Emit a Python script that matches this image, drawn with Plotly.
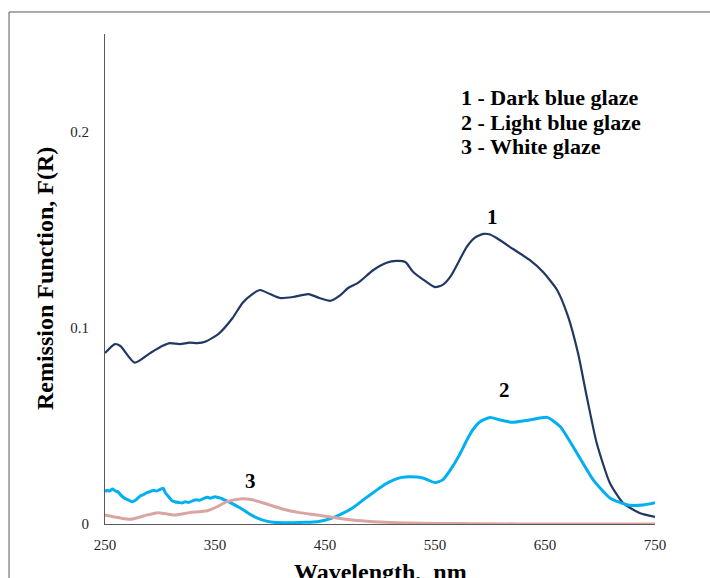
import plotly.graph_objects as go

# Remission function spectra of three glazes
wl_dark = [250, 259, 264, 277, 291, 302, 309, 318, 327, 334, 341, 353, 366, 375, 384, 391,
           400, 409, 421, 435, 445, 455, 464, 471, 480, 494, 506, 515, 523, 530, 541, 550,
           557, 564, 579, 586, 594, 600, 606, 621, 636, 648, 661, 671, 680, 688, 697, 709,
           721, 736, 750]
fr_dark = [0.0872, 0.0918, 0.0908, 0.0823, 0.0872, 0.0908, 0.0923, 0.0918, 0.0925, 0.0923,
           0.0930, 0.0969, 0.1051, 0.1128, 0.1173, 0.1194, 0.1173, 0.1153, 0.1158, 0.1173,
           0.1153, 0.1139, 0.1168, 0.1204, 0.1230, 0.1296, 0.1333, 0.1342, 0.1337, 0.1287,
           0.1240, 0.1209, 0.1220, 0.1262, 0.1415, 0.1460, 0.1480, 0.1477, 0.1459, 0.1403,
           0.1347, 0.1287, 0.1194, 0.1058, 0.0872, 0.0649, 0.0413, 0.0209, 0.0107, 0.0056,
           0.0036]

wl_light = [250, 252, 254, 257, 259, 262, 264, 266, 269, 272, 275, 278, 280, 282, 285, 288,
            291, 294, 297, 300, 303, 305, 308, 311, 314, 317, 320, 323, 326, 330, 333, 336,
            340, 343, 346, 350, 353, 356, 359, 366, 373, 380, 388, 395, 403, 412, 421, 432,
            443, 450, 457, 466, 475, 486, 497, 505, 512, 520, 527, 539, 550, 557, 564, 572,
            579, 585, 591, 600, 609, 620, 636, 652, 664, 679, 694, 709, 725, 739, 750]
fr_light = [0.0165, 0.0172, 0.0168, 0.0179, 0.0170, 0.0163, 0.0150, 0.0139, 0.0128, 0.0120,
            0.0114, 0.0122, 0.0133, 0.0143, 0.0150, 0.0160, 0.0165, 0.0172, 0.0168, 0.0176,
            0.0182, 0.0158, 0.0138, 0.0119, 0.0112, 0.0110, 0.0107, 0.0113, 0.0110, 0.0119,
            0.0124, 0.0121, 0.0131, 0.0136, 0.0132, 0.0139, 0.0135, 0.0130, 0.0122, 0.0103,
            0.0082, 0.0056, 0.0031, 0.0017, 0.0009, 0.0007, 0.0007, 0.0009, 0.0012, 0.0019,
            0.0031, 0.0054, 0.0082, 0.0128, 0.0173, 0.0204, 0.0224, 0.0238, 0.0241, 0.0235,
            0.0211, 0.0225, 0.0276, 0.0350, 0.0429, 0.0485, 0.0522, 0.0544, 0.0531, 0.0519,
            0.0531, 0.0544, 0.0496, 0.0362, 0.0224, 0.0133, 0.0097, 0.0097, 0.0109]

wl_white = [250, 273, 285, 298, 312, 327, 343, 352, 361, 373, 385, 397, 412, 427, 443, 457,
            475, 494, 515, 536, 573, 600, 650, 700, 750]
fr_white = [0.0046, 0.0024, 0.0041, 0.0058, 0.0046, 0.0058, 0.0068, 0.0088, 0.0114, 0.0128,
            0.0122, 0.0102, 0.0075, 0.0058, 0.0046, 0.0034, 0.0020, 0.0012, 0.0007, 0.0004,
            0.0002, 0.0001, 0.0, 0.0, 0.0]

x_ticks = [250, 350, 450, 550, 650, 750]
y_ticks = [0, 0.1, 0.2]
y_tick_text = ["0", "0.1", "0.2"]

legend_lines = ["1 - Dark blue glaze", "2 - Light blue glaze", "3 - White glaze"]
curve_labels = [("1", 602, 0.1566), ("2", 613, 0.0684), ("3", 382, 0.0219)]

SERIF = "Liberation Serif, Times New Roman, serif"
AXIS_COLOR = "#595959"

fig = go.Figure()
fig.add_trace(go.Scatter(x=wl_dark, y=fr_dark, mode="lines",
                         line=dict(color="#203864", width=2.2, shape="spline", smoothing=0.6)))
fig.add_trace(go.Scatter(x=wl_light, y=fr_light, mode="lines",
                         line=dict(color="#00B0F0", width=3, shape="spline", smoothing=0.5)))
fig.add_trace(go.Scatter(x=wl_white, y=fr_white, mode="lines",
                         line=dict(color="#D9A5A3", width=3, shape="spline", smoothing=0.6)))

annotations = []
for i, txt in enumerate(legend_lines):
    annotations.append(dict(text=txt, xref="paper", yref="paper", x=0.6436,
                            y=0.8714 - i * 0.0510, xanchor="left", yanchor="middle",
                            showarrow=False,
                            font=dict(family=SERIF, size=22, color="black", weight="bold")))
for txt, lx, ly in curve_labels:
    annotations.append(dict(text=txt, x=lx, y=ly, xref="x", yref="y", showarrow=False,
                            font=dict(family=SERIF, size=21, color="black", weight="bold")))
# axis titles
annotations.append(dict(text="Remission Function, F(R)", xref="paper", yref="paper",
                        x=-0.109, y=0.5, textangle=-90, showarrow=False,
                        xanchor="center", yanchor="middle",
                        font=dict(family=SERIF, size=24, color="black", weight="bold")))
annotations.append(dict(text="Wavelength,  nm", xref="paper", yref="paper",
                        x=0.5, y=-0.097, showarrow=False, xanchor="center", yanchor="middle",
                        font=dict(family=SERIF, size=24, color="black", weight="bold")))

fig.update_layout(
    width=710, height=578,
    margin=dict(l=105, r=55, t=34, b=54),
    paper_bgcolor="white", plot_bgcolor="white",
    showlegend=False,
    annotations=annotations,
    shapes=[
        dict(type="line", xref="paper", yref="paper", x0=-0.1745, x1=1.2,
             y0=1.0449, y1=1.0449, line=dict(color=AXIS_COLOR, width=1)),
        dict(type="line", xref="paper", yref="paper", x0=-0.1745, x1=-0.1745,
             y0=-0.2, y1=1.0449, line=dict(color=AXIS_COLOR, width=1)),
    ],
    xaxis=dict(range=[250, 750], tickvals=x_ticks, showgrid=False, zeroline=False,
               showline=True, linecolor=AXIS_COLOR, linewidth=1, ticks="",
               ticklabelstandoff=7,
               tickfont=dict(family=SERIF, size=15, color="#262626")),
    yaxis=dict(range=[0, 0.25], tickvals=y_ticks, ticktext=y_tick_text, showgrid=False,
               zeroline=False, showline=True, linecolor=AXIS_COLOR, linewidth=1, ticks="",
               ticklabelstandoff=12,
               tickfont=dict(family=SERIF, size=15, color="#262626")),
)

fig.write_html("out.html")
